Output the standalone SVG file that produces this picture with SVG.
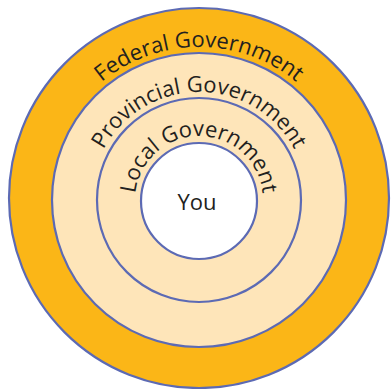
<svg xmlns="http://www.w3.org/2000/svg" width="391" height="389" viewBox="0 0 391 389">
  <style>
    .ring { stroke: #5C6AB4; stroke-width: 2.2; }
    .lbl { font-family: "Open Sans", "DejaVu Sans", sans-serif; font-size: 22px; fill: #231F20; }
  </style>
  <defs>
    <path id="arcF" d="M 46 200 A 153 153 0 0 1 352 200"/>
    <path id="arcP" d="M 91 200 A 108 108 0 0 1 307 200"/>
    <path id="arcL" d="M 135 200 A 64 64 0 0 1 263 200"/>
  </defs>
  <rect width="391" height="389" fill="#FFFFFF"/>
  <g id="federal">
    <circle class="ring" cx="199" cy="198" r="190" fill="#FBB617"/>
    <text class="lbl"><textPath href="#arcF" startOffset="50%" text-anchor="middle">Federal Government</textPath></text>
  </g>
  <g id="provincial">
    <circle class="ring" cx="199" cy="200" r="147" fill="#FEE5B9"/>
    <text class="lbl"><textPath href="#arcP" startOffset="50%" text-anchor="middle">Provincial Government</textPath></text>
  </g>
  <g id="local">
    <circle class="ring" cx="199" cy="200" r="102" fill="#FEE5B9"/>
    <text class="lbl"><textPath href="#arcL" startOffset="50%" text-anchor="middle">Local Government</textPath></text>
  </g>
  <g id="you">
    <circle class="ring" cx="199" cy="201" r="58" fill="#FFFFFF"/>
    <text class="lbl" x="197" y="210" text-anchor="middle" font-size="20">You</text>
  </g>
</svg>
